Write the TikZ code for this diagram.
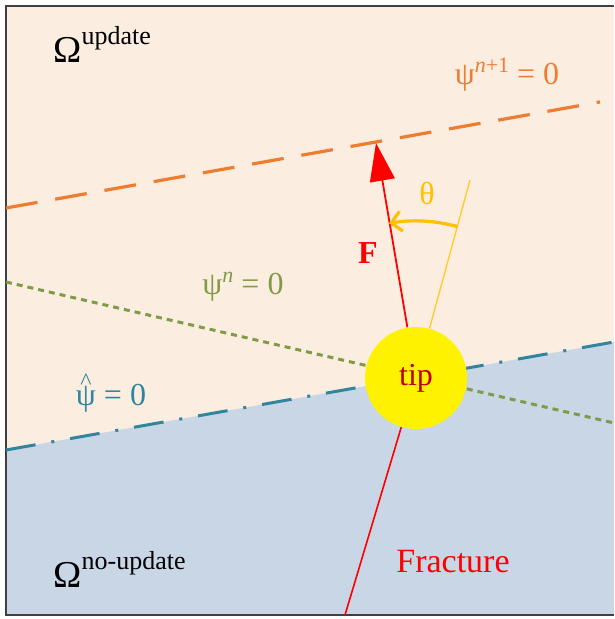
\documentclass[tikz,border=0pt]{standalone}
\usepackage{fontspec}
\setmainfont{Liberation Serif}
\usetikzlibrary{arrows.meta, calc}
\definecolor{peach}{RGB}{252,237,225}
\definecolor{noupd}{RGB}{200,214,230}
\definecolor{lsorange}{RGB}{237,125,49}
\definecolor{lsgreen}{RGB}{128,155,70}
\definecolor{lsteal}{RGB}{49,133,156}
\definecolor{thetacol}{RGB}{255,192,0}
\definecolor{tipred}{RGB}{192,0,0}

\begin{document}
\begin{tikzpicture}[
    x=0.5pt, y=0.5pt,
    font=\fontsize{16}{18}\selectfont,
    border/.style={draw=black!75, line width=1.3pt},
    nextset/.style={draw=lsorange, line width=1.6pt, dash pattern=on 16pt off 9pt},
    curset/.style={draw=lsgreen, line width=1.5pt, dash pattern=on 3pt off 2.5pt},
    hatset/.style={draw=lsteal, line width=1.5pt, dash pattern=on 15pt off 8pt on 1.5pt off 8pt},
    tipnode/.style={circle, fill=yellow, minimum size=51pt, inner sep=0pt, text=tipred},
    farrow/.style={draw=red, line width=0.9pt, -{Triangle[length=19pt, width=12.5pt]}},
    fracline/.style={draw=red, line width=0.8pt},
    dirline/.style={draw=thetacol!80, line width=0.7pt},
    thetaarc/.style={draw=thetacol, line width=1.6pt, -{Straight Barb[length=5pt, width=10pt]}},
    omega/.style={anchor=base west, inner sep=0pt, font=\fontsize{19}{22}\selectfont}
  ]
    \useasboundingbox (0,0) rectangle (614,619);

    \fill[peach] (6,4) rectangle (614,613);
    \coordinate (hatL) at (6,169);
    \coordinate (hatR) at (614,277);
    \fill[noupd] (hatL) -- (hatR) -- (614,4) -- (6,4) -- cycle;
    \draw[border] (614,613) -- (6,613) -- (6,4) -- (614,4);

    \coordinate (nextL) at (6,411);
    \coordinate (nextR) at (600,517);
    \coordinate (curL) at (6,337);
    \coordinate (curR) at (614,196);
    \draw[nextset] (nextL) -- (nextR);
    \draw[curset] (curL) -- (curR);
    \draw[hatset] (hatL) -- (hatR);

    \node[tipnode] (tip) at (416,241) {tip};

    \coordinate (fend) at (376,476);
    \coordinate (fbot) at (345,4);
    \coordinate (dend) at (470,439);
    \draw[fracline] (fbot) -- (tip);
    \draw[dirline] (tip) -- (dend);
    \draw[farrow] (tip) -- (fend);
    \draw[thetaarc] ($(tip.center)+(74.7:157)$) arc[start angle=74.7, end angle=99.9, radius=157];

    \node[text=thetacol] (theta) at (427,426) {θ};
    \node[text=red, font=\fontsize{16}{18}\selectfont\bfseries] (flabel) at (368,366) {F};
    \node[text=lsorange] (nextlabel) at (507,544) {ψ\raisebox{6pt}{\fontsize{11}{11}\selectfont\textit{n}+1} = 0};
    \node[text=lsgreen] (curlabel) at (243,332) {ψ\raisebox{6pt}{\fontsize{11}{11}\selectfont\textit{n}} = 0};
    \node[text=lsteal] (hatlabel) at (111,224) {\ooalign{ψ\cr\hidewidth\raisebox{8pt}{\fontsize{12}{12}\selectfont\^{}}\hidewidth\cr} = 0};
    \node[text=red, font=\fontsize{17}{19}\selectfont] (fraclabel) at (453,57) {Fracture};

    \node[omega] (omup) at (53,556) {Ω\raisebox{9pt}{\fontsize{13}{13}\selectfont update}};
    \node[omega] (omno) at (53,31) {Ω\raisebox{9pt}{\fontsize{13}{13}\selectfont no-update}};
  \end{tikzpicture}
\end{document}
